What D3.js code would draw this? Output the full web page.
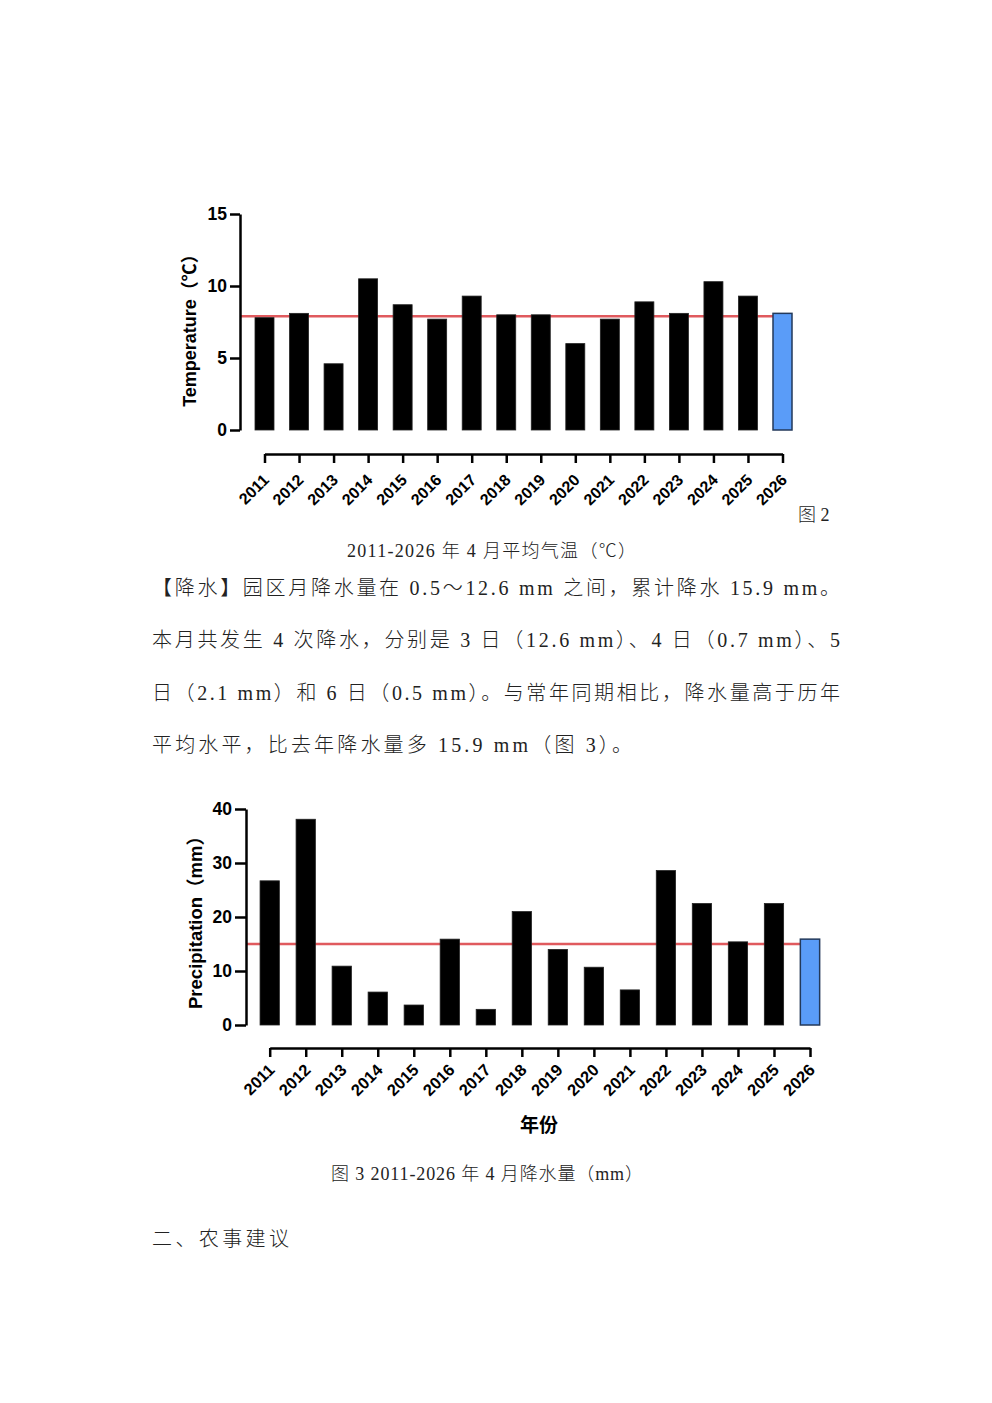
<!DOCTYPE html>
<html>
<head>
<meta charset="utf-8">
<script src="https://cdn.jsdelivr.net/npm/d3@7"></script>
<style>
body { margin: 0; background: #fff; }
.axis path, .axis line { stroke: #000; stroke-width: 2.5px; }
.axis text { font-family: "Liberation Sans", Arial, sans-serif; font-weight: bold; fill: #000; }
.ylabel { font-family: "Liberation Sans", Arial, "Noto Sans CJK SC", sans-serif; font-weight: bold; fill: #000; }
.doc { font-family: "Liberation Serif", "Noto Sans CJK SC", serif; fill: #222; font-weight: 300; }
</style>
</head>
<body>
<svg id="page" width="992" height="1403"></svg>
<script>
// Categories and values
const years = ["2011", "2012", "2013", "2014", "2015", "2016", "2017", "2018",
               "2019", "2020", "2021", "2022", "2023", "2024", "2025", "2026"];
const tempValues = [7.8, 8.1, 4.6, 10.5, 8.7, 7.7, 9.3, 8.0, 8.0, 6.0, 7.7, 8.9, 8.1, 10.3, 9.3, 8.1];
const tempMean = 7.9;
const tempTicks = [0, 5, 10, 15];
const precipValues = [26.7, 38.1, 10.9, 6.1, 3.7, 15.9, 2.9, 21.0, 14.0, 10.7, 6.5, 28.6, 22.5, 15.4, 22.5, 15.9];
const precipMean = 15.0;
const precipTicks = [0, 10, 20, 30, 40];

const paragraphLines = [
  "【降水】园区月降水量在 0.5～12.6 mm 之间，累计降水 15.9 mm。",
  "本月共发生 4 次降水，分别是 3 日（12.6 mm）、4 日（0.7 mm）、5",
  "日（2.1 mm）和 6 日（0.5 mm）。与常年同期相比，降水量高于历年",
  "平均水平，比去年降水量多 15.9 mm（图 3）。"
];

const svg = d3.select("#page");
svg.append("rect").attr("width", 992).attr("height", 1403).attr("fill", "#fff");

function drawChart(c) {
  const g = svg.append("g");

  const yScale = d3.scaleLinear()
    .domain([0, c.max])
    .range([c.yBottom, c.yTop]);

  const xScale = d3.scalePoint()
    .domain(years)
    .range([c.xFirst, c.xLast]);

  // mean line sits behind the bars
  g.append("line")
    .attr("x1", c.axisX)
    .attr("x2", c.xLast + c.barWidth / 2)
    .attr("y1", yScale(c.mean))
    .attr("y2", yScale(c.mean))
    .attr("stroke", "#e05a5e")
    .attr("stroke-width", 2.5);

  g.selectAll("rect.bar")
    .data(c.values)
    .enter()
    .append("rect")
    .attr("class", "bar")
    .attr("x", (d, i) => xScale(years[i]) - c.barWidth / 2)
    .attr("y", d => yScale(d))
    .attr("width", c.barWidth)
    .attr("height", d => yScale(0) - yScale(d))
    .attr("fill", (d, i) => i === years.length - 1 ? "#5a9cf8" : "#000")
    .attr("stroke", (d, i) => i === years.length - 1 ? "#23395a" : "#222")
    .attr("stroke-width", (d, i) => i === years.length - 1 ? 1.5 : 0.8);

  // y axis
  g.append("g")
    .attr("class", "axis")
    .attr("transform", `translate(${c.axisX},0)`)
    .call(d3.axisLeft(yScale).tickValues(c.ticks).tickSize(c.tickLen).tickSizeOuter(0).tickPadding(3))
    .selectAll("text")
    .style("font-size", "17.5px");

  // x axis, offset below the plot
  const xAxis = g.append("g")
    .attr("class", "axis")
    .attr("transform", `translate(0,${c.xAxisY})`)
    .call(d3.axisBottom(xScale).tickSize(9).tickSizeOuter(0));

  xAxis.selectAll("text")
    .attr("x", 0)
    .attr("y", 0)
    .attr("dy", 0)
    .attr("text-anchor", "end")
    .attr("transform", `translate(${c.labelDx},${c.labelDy}) rotate(-45)`)
    .style("font-size", c.labelSize + "px");

  g.append("text")
    .attr("class", "ylabel")
    .attr("text-anchor", "middle")
    .attr("transform", `translate(${c.yLabelX},${c.yLabelY}) rotate(-90)`)
    .style("font-size", c.yLabelSize + "px")
    .text(c.yLabel);
}

drawChart({
  values: tempValues, mean: tempMean, max: 15, ticks: tempTicks,
  yBottom: 430, yTop: 214, axisX: 240, tickLen: 10,
  xFirst: 264.5, xLast: 782.5, barWidth: 19, xAxisY: 454,
  labelDx: 5, labelDy: 27, labelSize: 16,
  yLabel: "Temperature（℃）", yLabelX: 196, yLabelY: 326, yLabelSize: 18
});

drawChart({
  values: precipValues, mean: precipMean, max: 40, ticks: precipTicks,
  yBottom: 1025, yTop: 809, axisX: 246, tickLen: 11,
  xFirst: 269.7, xLast: 810, barWidth: 19.3, xAxisY: 1048,
  labelDx: 5.5, labelDy: 23, labelSize: 16.5,
  yLabel: "Precipitation（mm）", yLabelX: 202, yLabelY: 918, yLabelSize: 18.5
});

// x title of the second chart
svg.append("text")
  .attr("x", 539).attr("y", 1132)
  .attr("text-anchor", "middle")
  .style("font-family", "\"Noto Sans CJK SC\", sans-serif")
  .style("font-weight", "bold")
  .style("font-size", "19px")
  .text("年份");

// document text around the charts
function docText(str, x, y, size, len) {
  const t = svg.append("text")
    .attr("class", "doc")
    .attr("x", x).attr("y", y)
    .style("font-size", size + "px")
    .text(str);
  if (len) t.attr("textLength", len).attr("lengthAdjust", "spacing");
  return t;
}

docText("图 2", 798, 521, 18);
docText("2011-2026 年 4 月平均气温（℃）", 347, 557, 18, 289);

const lineLens = [688, 688, 688, 480];
paragraphLines.forEach((s, i) => {
  docText(s, 152, 595 + i * 52.4, 20, lineLens[i]);
});

docText("图 3 2011-2026 年 4 月降水量（mm）", 331, 1180, 18, 312);
docText("二、农事建议", 152, 1246, 20, 137);
</script>
</body>
</html>
